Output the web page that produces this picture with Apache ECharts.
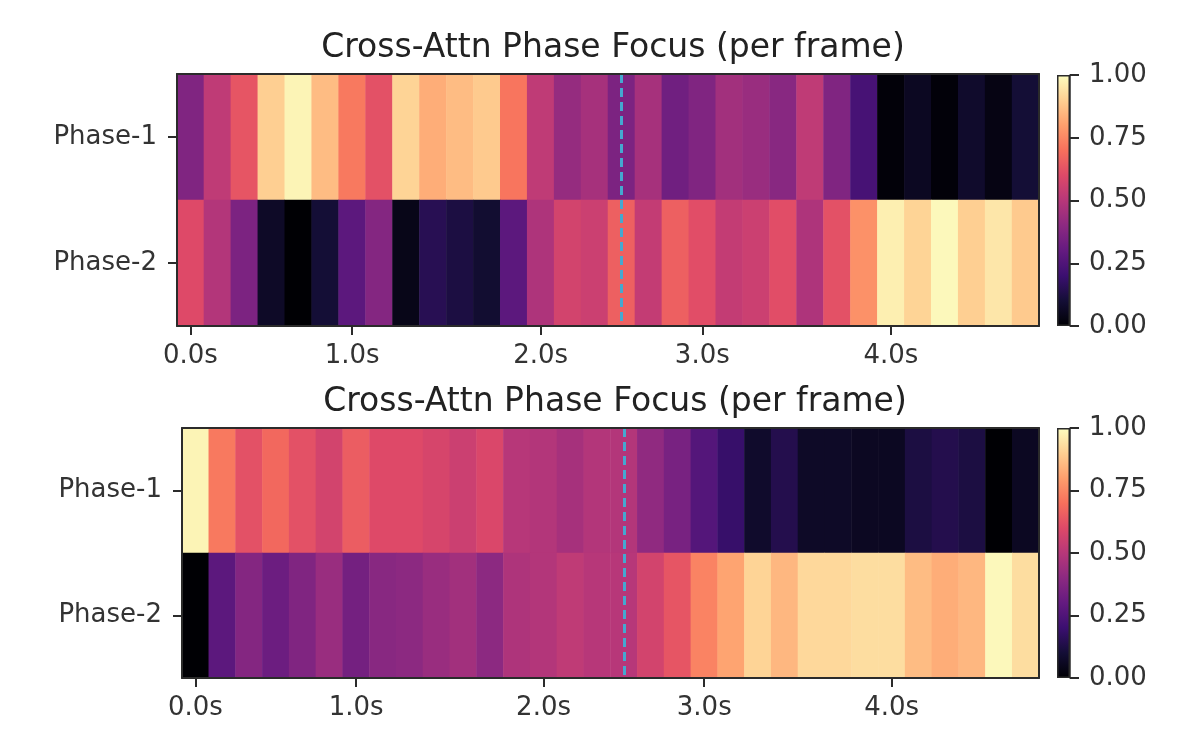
<!DOCTYPE html>
<html>
<head>
<meta charset="utf-8">
<script src="https://cdn.jsdelivr.net/npm/echarts@6/dist/echarts.min.js"></script>
<style>
html,body{margin:0;padding:0;background:#fff;}
#chart{width:1200px;height:750px;}
</style>
</head>
<body>
<div id="chart"></div>
<script>
// ---- data ----
const phases = ['Phase-1', 'Phase-2'];
const frameCount = 32;
const tickFrames = [0, 6, 13, 19, 26];
const tickLabels = ['0.0s', '1.0s', '2.0s', '3.0s', '4.0s'];
const markerFrame = 16;

const topPhase1 = [0.37,0.52,0.63,0.90,0.98,0.86,0.72,0.62,0.91,0.83,0.86,0.89,0.71,0.52,0.42,0.46,0.36,0.46,0.33,0.37,0.45,0.43,0.39,0.52,0.37,0.23,0.01,0.06,0.01,0.08,0.03,0.10];
const topPhase2 = [0.60,0.49,0.36,0.07,0.00,0.10,0.28,0.38,0.04,0.15,0.12,0.09,0.28,0.48,0.57,0.55,0.66,0.53,0.66,0.61,0.53,0.55,0.61,0.48,0.62,0.77,0.97,0.91,0.99,0.90,0.95,0.89];
const bottomPhase1 = [0.98,0.72,0.62,0.68,0.62,0.57,0.65,0.60,0.60,0.58,0.55,0.59,0.50,0.49,0.46,0.49,0.49,0.41,0.35,0.26,0.19,0.08,0.14,0.07,0.07,0.06,0.06,0.12,0.14,0.12,0.00,0.06];
const bottomPhase2 = [0.00,0.28,0.38,0.32,0.37,0.43,0.34,0.39,0.40,0.43,0.45,0.40,0.48,0.49,0.52,0.50,0.50,0.57,0.63,0.74,0.81,0.91,0.85,0.92,0.92,0.93,0.93,0.86,0.83,0.85,0.99,0.93];

const titleText = 'Cross-Attn Phase Focus (per frame)';

// magma colormap stops (evenly spaced 0..1)
const magma = ['#000004','#140e36','#3b0f70','#641a80','#8c2981','#b73779','#de4968','#f7705c','#fe9f6d','#fecf92','#fcfdbf'];

// ---- build ----
const frames = [];
for (let i = 0; i < frameCount; i++) frames.push(String(i));

function toCells(p1, p2) {
  const out = [];
  p1.forEach((v, i) => out.push([i, 0, v]));
  p2.forEach((v, i) => out.push([i, 1, v]));
  return out;
}

const FONT = 'DejaVu Sans';
const TXT = '#333';
const LINE = '#2b2b2b';

const gridsHeat = [
  {left: 177, top: 74, width: 862, height: 252},
  {left: 182, top: 428, width: 857, height: 250}
];
const gridsCb = [
  {left: 1057, top: 75, width: 13, height: 251},
  {left: 1057, top: 428, width: 13, height: 250}
];

const isTick = (idx) => tickFrames.indexOf(idx) >= 0;

const xAxes = [], yAxes = [];
// axes 0,1: heatmap axes
[0, 1].forEach(g => {
  xAxes.push({
    type: 'category', gridIndex: g, data: frames, z: 5,
    axisLine: {show: true, lineStyle: {color: LINE, width: 2}},
    axisTick: {show: true, alignWithLabel: true, interval: (i) => isTick(i), length: 9, lineStyle: {color: LINE, width: 2}},
    axisLabel: {show: true, interval: (i) => isTick(i), margin: 17, fontSize: 26, fontFamily: FONT, color: TXT,
      formatter: (v) => tickLabels[tickFrames.indexOf(Number(v))] || ''},
    splitLine: {show: false}
  });
  yAxes.push({
    type: 'category', gridIndex: g, data: phases, inverse: true, z: 5,
    axisLine: {show: true, lineStyle: {color: LINE, width: 2}},
    axisTick: {show: true, alignWithLabel: true, length: 9, lineStyle: {color: LINE, width: 2}},
    axisLabel: {margin: 20, fontSize: 26, fontFamily: FONT, color: TXT},
    splitLine: {show: false}
  });
});
// axes 2,3: colorbar axes
[2, 3].forEach(g => {
  xAxes.push({type: 'category', gridIndex: g, data: ['cb'], show: false});
  yAxes.push({
    type: 'value', gridIndex: g, position: 'right', min: 0, max: 1, interval: 0.25, z: 5,
    axisLine: {show: true, lineStyle: {color: LINE, width: 1.5}},
    axisTick: {show: true, length: 9, lineStyle: {color: LINE, width: 2}},
    axisLabel: {margin: 19, fontSize: 26, fontFamily: FONT, color: TXT, formatter: (v) => v.toFixed(2)},
    splitLine: {show: false}
  });
});
// axes 4,5: top/right spines of heatmap grids
[0, 1].forEach(g => {
  xAxes.push({type: 'value', gridIndex: g, position: 'top', min: 0, max: 1, z: 5,
    axisLine: {show: true, lineStyle: {color: LINE, width: 2}}, axisTick: {show: false}, axisLabel: {show: false}, splitLine: {show: false}});
  yAxes.push({type: 'value', gridIndex: g, position: 'right', min: 0, max: 1, z: 5,
    axisLine: {show: true, lineStyle: {color: LINE, width: 2}}, axisTick: {show: false}, axisLabel: {show: false}, splitLine: {show: false}});
});

const gradStops = magma.map((c, i) => ({offset: 1 - i / (magma.length - 1), color: c})).reverse();

function heatSeries(idx, data) {
  return {
    type: 'heatmap', xAxisIndex: idx, yAxisIndex: idx, data: data,
    itemStyle: {borderWidth: 0},
    emphasis: {disabled: true},
    markLine: {
      silent: true, symbol: 'none', animation: false,
      label: {show: false},
      lineStyle: {color: '#45a8d0', width: 3, type: [9, 5]},
      data: [{xAxis: markerFrame}]
    }
  };
}
function cbSeries(idx) {
  return {
    type: 'bar', xAxisIndex: idx, yAxisIndex: idx, data: [1], barWidth: '100%',
    silent: true,
    itemStyle: {
      color: new echarts.graphic.LinearGradient(0, 0, 0, 1, gradStops),
      borderColor: LINE, borderWidth: 1.5
    }
  };
}

const option = {
  animation: false,
  backgroundColor: '#fff',
  textStyle: {fontFamily: FONT},
  title: [
    {text: titleText, left: 608, top: 27, textAlign: 'center',
      textStyle: {fontSize: 33, fontWeight: 'normal', color: '#222', fontFamily: FONT}},
    {text: titleText, left: 610, top: 381, textAlign: 'center',
      textStyle: {fontSize: 33, fontWeight: 'normal', color: '#222', fontFamily: FONT}}
  ],
  grid: gridsHeat.concat(gridsCb),
  xAxis: xAxes,
  yAxis: yAxes,
  visualMap: {
    type: 'continuous', show: false, min: 0, max: 1, seriesIndex: [0, 1],
    inRange: {color: magma}
  },
  series: [
    heatSeries(0, toCells(topPhase1, topPhase2)),
    heatSeries(1, toCells(bottomPhase1, bottomPhase2)),
    cbSeries(2),
    cbSeries(3)
  ]
};

const chart = echarts.init(document.getElementById('chart'), null, {renderer: 'canvas'});
chart.setOption(option);
</script>
</body>
</html>
